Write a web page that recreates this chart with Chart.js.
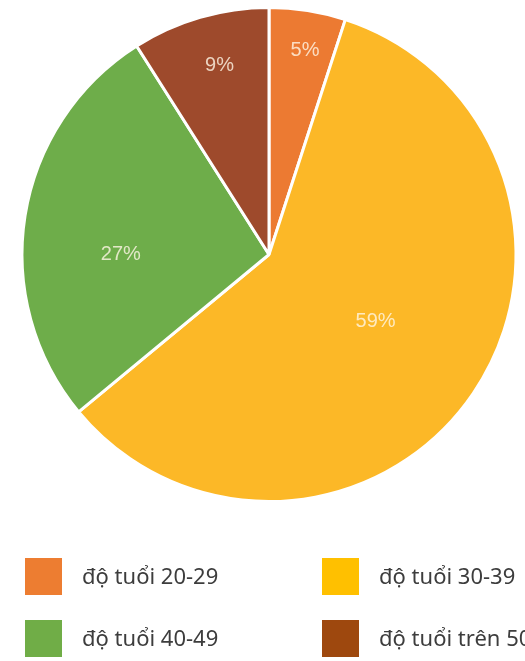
<!DOCTYPE html>
<html>
<head>
<meta charset="utf-8">
<script src="https://cdn.jsdelivr.net/npm/chart.js@4/dist/chart.umd.min.js"></script>
<style>
  html, body { margin: 0; padding: 0; background: #fff; overflow: hidden; }
  #wrap { width: 525px; height: 661px; position: relative; }
</style>
</head>
<body>
<div id="wrap"><canvas id="ageChart"></canvas></div>
<script>
// Age groups and their share (%)
const ageLabels = ['độ tuổi 20-29', 'độ tuổi 30-39', 'độ tuổi 40-49', 'độ tuổi trên 50'];
const ageShares = [5, 59, 27, 9];
const sliceColors = ['#EC7A32', '#FCB827', '#6EAD4A', '#9E4A2C'];
const legendColors = ['#ED7D31', '#FFC000', '#70AD47', '#9E480E'];

// Percent labels drawn inside each slice
const sliceLabelPlugin = {
    id: 'sliceLabels',
    afterDatasetsDraw(chart, args, opts) {
        const ctx = chart.ctx;
        const meta = chart.getDatasetMeta(0);
        const values = chart.data.datasets[0].data;
        ctx.save();
        ctx.font = opts.font;
        ctx.fillStyle = opts.color;
        ctx.textAlign = 'center';
        ctx.textBaseline = 'middle';
        meta.data.forEach((arc, i) => {
            const p = arc.getProps(['x', 'y', 'startAngle', 'endAngle', 'outerRadius'], true);
            // nudge like Excel's "best fit" placement
            const mid = (p.startAngle + p.endAngle) / 2 + opts.angleShift[i] * Math.PI / 180;
            const r = p.outerRadius * opts.radiusFactors[i];
            ctx.fillText(values[i] + '%', p.x + Math.cos(mid) * r, p.y + Math.sin(mid) * r);
        });
        ctx.restore();
    }
};

// Two-column legend under the pie
const gridLegendPlugin = {
    id: 'gridLegend',
    afterDraw(chart, args, opts) {
        const ctx = chart.ctx;
        ctx.save();
        ctx.font = opts.font;
        ctx.textBaseline = 'middle';
        chart.data.labels.forEach((label, i) => {
            const col = i % 2;
            const row = Math.floor(i / 2);
            const x = opts.columns[col];
            const y = opts.rows[row];
            ctx.fillStyle = legendColors[i];
            ctx.fillRect(x, y, opts.box, opts.box);
            ctx.fillStyle = opts.color;
            ctx.fillText(label, x + opts.box + opts.gap, y + opts.box / 2 + 1);
        });
        ctx.restore();
    }
};

new Chart(document.getElementById('ageChart'), {
    type: 'pie',
    data: {
        labels: ageLabels,
        datasets: [{
            data: ageShares,
            backgroundColor: sliceColors,
            borderColor: '#FFFFFF',
            borderWidth: 3
        }]
    },
    options: {
        responsive: true,
        maintainAspectRatio: false,
        animation: false,
        layout: { padding: { left: 19, right: 6, top: 6, bottom: 158 } },
        plugins: {
            legend: { display: false },
            tooltip: { enabled: false },
            sliceLabels: {
                font: '20px "Liberation Sans Narrow", "Liberation Sans", sans-serif',
                color: 'rgba(255, 246, 230, 0.8)',
                radiusFactors: [0.84, 0.51, 0.6, 0.79],
                angleShift: [1, -2, -9, 1.5]
            },
            gridLegend: {
                font: '22px "Noto Sans", sans-serif',
                color: '#3d3d3d',
                columns: [25, 322],
                rows: [558, 620],
                box: 37,
                gap: 20
            }
        }
    },
    plugins: [sliceLabelPlugin, gridLegendPlugin]
});
</script>
</body>
</html>
